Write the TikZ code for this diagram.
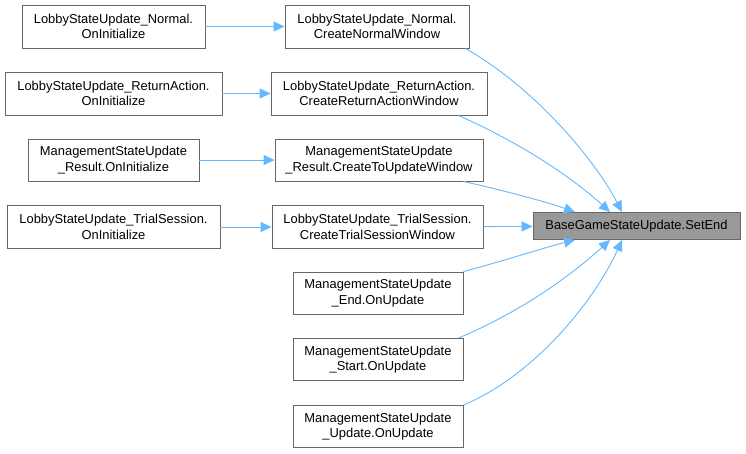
\documentclass[tikz,border=0pt]{standalone}
\usepackage{fontspec}
\setmainfont{Liberation Sans}
\usetikzlibrary{arrows.meta}
\definecolor{edgec}{HTML}{63B8FF}
\definecolor{borderc}{HTML}{666666}
\definecolor{targetc}{HTML}{999999}
\begin{document}
\begin{tikzpicture}[x=1pt,y=-1pt,
  fn/.style={draw=borderc, line width=0.9pt, fill=white, align=center, inner sep=0pt,
    font=\fontsize{12.9}{15.5}\selectfont, text=black},
  tgt/.style={fn, fill=targetc},
  ed/.style={draw=edgec, line width=0.9pt, -{Triangle[length=11pt,width=10pt]}}]
\useasboundingbox (0,0) rectangle (746,453);
% left column
\node[fn, minimum width=183pt, minimum height=43pt] (N1) at (113.5,26.5) {LobbyStateUpdate\_Normal.\\OnInitialize};
\node[fn, minimum width=217pt, minimum height=43pt] (N2) at (113.5,93.5) {LobbyStateUpdate\_ReturnAction.\\OnInitialize};
\node[fn, minimum width=171pt, minimum height=42pt] (N3) at (113.5,160) {ManagementStateUpdate\\\_Result.OnInitialize};
\node[fn, minimum width=213pt, minimum height=43pt] (N4) at (113.5,227) {LobbyStateUpdate\_TrialSession.\\OnInitialize};
% middle column
\node[fn, minimum width=184pt, minimum height=43pt] (M1) at (377,26.5) {LobbyStateUpdate\_Normal.\\CreateNormalWindow};
\node[fn, minimum width=216pt, minimum height=43pt] (M2) at (379,93.5) {LobbyStateUpdate\_ReturnAction.\\CreateReturnActionWindow};
\node[fn, minimum width=208pt, minimum height=42pt] (M3) at (379,160) {ManagementStateUpdate\\\_Result.CreateToUpdateWindow};
\node[fn, minimum width=211pt, minimum height=43pt] (M4) at (377.5,227) {LobbyStateUpdate\_TrialSession.\\CreateTrialSessionWindow};
\node[fn, minimum width=170pt, minimum height=42pt] (M5) at (378,293) {ManagementStateUpdate\\\_End.OnUpdate};
\node[fn, minimum width=170pt, minimum height=42pt] (M6) at (378,359.5) {ManagementStateUpdate\\\_Start.OnUpdate};
\node[fn, minimum width=170pt, minimum height=42pt] (M7) at (378,426.5) {ManagementStateUpdate\\\_Update.OnUpdate};
% target
\node[tgt, minimum width=207pt, minimum height=27pt] (T) at (636.5,226) {BaseGameStateUpdate.SetEnd};
% edges left -> middle
\draw[ed] (N1) -- (M1);
\draw[ed] (N2) -- (M2);
\draw[ed] (N3) -- (M3);
\draw[ed] (N4) -- (M4);
% edges middle -> target
\draw[ed] ([xshift=-4pt]M1.south east) .. controls (535,88) and (595,160) .. ([xshift=-14.5pt]T.north);
\draw[ed] ([xshift=-29pt]M2.south east) .. controls (525,145) and (575,180) .. ([xshift=-26.5pt]T.north);
\draw[ed] ([xshift=-20pt]M3.south east) .. controls (510,192) and (550,203) .. ([xshift=-61.5pt]T.north);
\draw[ed] (M4) -- (T);
\draw[ed] (M5.north east) .. controls (500,262) and (550,246) .. ([xshift=-61.5pt]T.south);
\draw[ed] ([xshift=-5pt]M6.north east) .. controls (525,310) and (575,272) .. ([xshift=-26.5pt]T.south);
\draw[ed] (M7.north east) .. controls (535,375) and (595,300) .. ([xshift=-14.5pt]T.south);
\end{tikzpicture}
\end{document}
